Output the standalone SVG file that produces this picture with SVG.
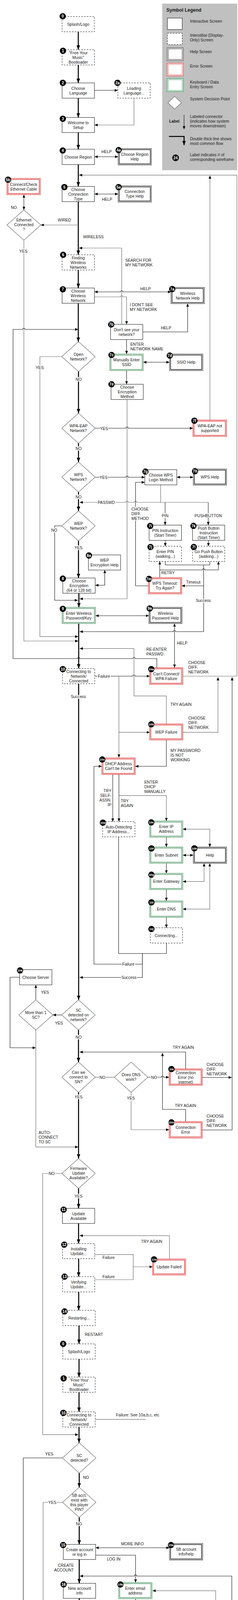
<svg xmlns="http://www.w3.org/2000/svg" width="608" height="5318" viewBox="0 0 608 5318">
<defs>
<style>
.t{font-family:"Liberation Sans",Arial,Helvetica,sans-serif;font-size:10.2px;fill:#1a1a1a;text-anchor:middle}
.s{text-anchor:start}
.e{text-anchor:end}
.b{font-weight:bold}
.hl{paint-order:stroke;stroke:#fff;stroke-width:4px;stroke-linejoin:round}
.bx{fill:#fff;stroke:#111;stroke-width:1}
.dsh{fill:#fff;stroke:#111;stroke-width:1;stroke-dasharray:4 3}
.ho{fill:#fff;stroke:#111;stroke-width:1}
.hi{fill:none;stroke:#111;stroke-width:1.5}
.eo{fill:#fff;stroke:#d40000;stroke-width:1}
.ei{fill:none;stroke:#d40000;stroke-width:1.2}
.ko{fill:#fff;stroke:#1e7a3c;stroke-width:1}
.ki{fill:none;stroke:#1e7a3c;stroke-width:1.2}
.dia{fill:#fff;stroke:#222;stroke-width:1}
.bc{fill:#000}
.bt{font-family:"Liberation Sans",Arial,sans-serif;font-weight:bold;font-size:10px;fill:#fff;text-anchor:middle}
.b3{font-size:8px}
.th{fill:none;stroke:#000;stroke-width:2.6}
.k{fill:none;stroke:#111;stroke-width:1.1}
.g{fill:none;stroke:#6e6e6e;stroke-width:1.2}
</style>
<marker id="a" viewBox="0 0 8 7" refX="8" refY="3.5" markerWidth="8" markerHeight="7" markerUnits="userSpaceOnUse" orient="auto-start-reverse"><path d="M0,0 L8,3.5 L0,7 z" fill="#000"/></marker>
<marker id="A" viewBox="0 0 11 9" refX="11" refY="4.5" markerWidth="11" markerHeight="9" markerUnits="userSpaceOnUse" orient="auto"><path d="M0,0 L11,4.5 L0,9 z" fill="#000"/></marker>
</defs>
<rect width="608" height="5318" fill="#fff"/>

<g id="legend">
<rect x="414.4" y="9.3" width="191.6" height="426.4" fill="#c0c0c0"/>
<text class="t s b" x="425" y="30" style="font-size:12px">Symbol Legend</text>
<rect class="bx" x="427.7" y="46.3" width="37.8" height="29.4"/>
<text class="t s" x="485.2" y="57.7">Interactive Screen</text>
<rect class="dsh" x="427.7" y="85" width="37.8" height="29.3"/>
<text class="t s" x="485.2" y="94">Interstitial (Display-</text>
<text class="t s" x="485.2" y="106">Only) Screen</text>
<rect x="427" y="122.3" width="41.3" height="32.7" fill="#fff" stroke="#555" stroke-width="1.3"/>
<rect x="429.8" y="125.1" width="35.7" height="27.1" fill="none" stroke="#777" stroke-width="1.6"/>
<text class="t s" x="485.2" y="136">Help Screen</text>
<rect x="427" y="161.7" width="41.3" height="32.6" fill="#fff" stroke="#e34b4b" stroke-width="1.3"/>
<rect x="429.8" y="164.5" width="35.7" height="27" fill="none" stroke="#f08080" stroke-width="1.4"/>
<text class="t s" x="485.2" y="173">Error Screen</text>
<rect x="427" y="201.3" width="41.3" height="33" fill="#fff" stroke="#3c9a5f" stroke-width="1.3"/>
<rect x="429.8" y="204.1" width="35.7" height="27.4" fill="none" stroke="#6cbf8a" stroke-width="1.4"/>
<text class="t s" x="485.2" y="214">Keyboard / Data</text>
<text class="t s" x="485.2" y="226">Entry Screen</text>
<polygon class="dia" points="446.2,246.7 463.5,263 446.2,279.3 428.9,263"/>
<text class="t s" x="485.2" y="257">System Decision Point</text>
<text class="t b" x="445.4" y="314">Label</text>
<line class="k" x1="470.2" y1="294" x2="470.2" y2="331" marker-end="url(#a)"/>
<text class="t s" x="485.2" y="302">Labeled connector</text>
<text class="t s" x="485.2" y="314">(indicates how system</text>
<text class="t s" x="485.2" y="326">moves downstream)</text>
<path class="th" d="M431.7,349.3 H470.2 V371.7" marker-end="url(#A)"/>
<text class="t s" x="485.2" y="359">Double thick line shows</text>
<text class="t s" x="485.2" y="371">most common flow</text>
<circle class="bc" cx="448.6" cy="404" r="8.5"/>
<text class="bt" x="448.6" y="407.5">24</text>
<text class="t s" x="485.2" y="400">Label indicates # of</text>
<text class="t s" x="485.2" y="412">corresponding wireframe</text>
</g>

<g id="connectors">
<path class="th" d="M200,81.3 V127.3" marker-end="url(#A)"/>
<path class="th" d="M200,166.3 V212.3" marker-end="url(#A)"/>
<path class="th" d="M200,251.3 V300.7" marker-end="url(#A)"/>
<path class="th" d="M200,339.3 V382" marker-end="url(#A)"/>
<path class="th" d="M200,421.3 V477.3" marker-end="url(#A)"/>
<path class="th" d="M200,516.3 V652.3" marker-end="url(#A)"/>
<path class="th" d="M200,691.3 V737.3" marker-end="url(#A)"/>
<path class="th" d="M200,776.3 V874.7" marker-end="url(#A)"/>
<path class="th" d="M200.5,951.3 V1057.8" marker-end="url(#A)"/>
<path class="th" d="M200.5,1134.8 V1182.8" marker-end="url(#A)"/>
<path class="th" d="M200.5,1259.8 V1307.8" marker-end="url(#A)"/>
<path class="th" d="M200.5,1384.8 V1479.7" marker-end="url(#A)"/>
<path class="th" d="M201.5,1518.7 V1554.7" marker-end="url(#A)"/>
<path class="th" d="M201,1596.3 V1711.3" marker-end="url(#A)"/>
<path class="th" d="M200.9,1750.3 V2559.6" marker-end="url(#A)"/>
<path class="th" d="M200.5,2637 V2719" marker-end="url(#A)"/>
<path class="th" d="M200.7,2796.4 V2965.7" marker-end="url(#A)"/>
<path class="th" d="M200.7,3042.3 V3093.3" marker-end="url(#A)"/>
<path class="th" d="M200.7,3132 V3183.7" marker-end="url(#A)"/>
<path class="th" d="M200.9,3222.3 V3268.3" marker-end="url(#A)"/>
<path class="th" d="M201,3307.3 V3354.3" marker-end="url(#A)"/>
<path class="th" d="M201.9,3393.7 V3440.3" marker-end="url(#A)"/>
<path class="th" d="M201.9,3479.3 V3525.3" marker-end="url(#A)"/>
<path class="th" d="M201.9,3564.3 V3614.3" marker-end="url(#A)"/>
<path class="th" d="M201.9,3653.3 V3693.6" marker-end="url(#A)"/>
<path class="th" d="M202.4,3771 V3807.5" marker-end="url(#A)"/>
<path class="th" d="M202.4,3884.5 V3953.7" marker-end="url(#A)"/>
<path class="th" d="M202.4,3992.3 V4053.3" marker-end="url(#A)"/>
<path class="th" d="M202.4,4091.7 V4133.3" marker-end="url(#A)"/>
<path class="th" d="M202.4,4175.3 V4417" marker-end="url(#A)"/>
<path class="th" d="M202.4,4494.4 V4591.7" marker-end="url(#A)"/>
<path class="th" d="M202.4,4669.7 V4711.7" marker-end="url(#A)"/>
<path class="th" d="M202.4,4753.3 V4802.3" marker-end="url(#A)"/>
<path class="th" d="M202.4,4841.3 V4884.3" marker-end="url(#A)"/>
<path class="th" d="M202.4,4923.3 V4965.3" marker-end="url(#A)"/>
<path class="th" d="M202.4,5004.3 V5033.3" marker-end="url(#A)"/>
<path class="th" d="M202.4,5072.3 V5101.3" marker-end="url(#A)"/>
<path class="th" d="M202.4,5140.3 V5169.3" marker-end="url(#A)"/>
<path class="th" d="M202.4,5208.3 V5268.3" marker-end="url(#A)"/>

<path class="k" d="M241.2,231.3 H301" marker-end="url(#a)"/>
<path class="g" d="M342.3,251.3 V320 H241.5" marker-end="url(#a)"/>
<path class="k" d="M241.5,401.3 H301.8" marker-start="url(#a)" marker-end="url(#a)"/>
<path class="g" d="M467.1,1731 H605.2 V448.3 H202" marker-end="url(#a)"/>
<path class="k" d="M241.5,496.7 H301.8" marker-start="url(#a)" marker-end="url(#a)"/>
<path class="k" d="M61,498.3 V537.3" marker-start="url(#a)" marker-end="url(#a)"/>
<path class="g" d="M200,576 H104.3" marker-end="url(#a)"/>
<path class="g" d="M61,614.7 V1641 H200" marker-end="url(#a)"/>
<path class="g" d="M536.3,1075.3 V449.5" marker-end="url(#a)"/>
<path class="g" d="M310.9,830.3 V635 H202" marker-end="url(#a)"/>
<path class="k" d="M241.5,747.3 H307.9 a3,3 0 0 1 6,0 H436.8" marker-start="url(#a)" marker-end="url(#a)"/>
<path class="g" d="M241.2,760 H307.9 a3,3 0 0 1 6,0 H323.4 V830.3" marker-end="url(#a)"/>
<path class="k" d="M364.8,849.7 H479.3 V777.3" marker-end="url(#a)"/>
<path class="k" d="M323.4,869.3 V906.3" marker-end="url(#a)"/>
<path class="k" d="M400.6,1709.3 V1686 H345.3 a3,3 0 0 0 -6,0 H204 a3,3 0 0 0 -6,0 H33.4 V843.3 H58 a3,3 0 0 1 6,0 H200" marker-end="url(#a)"/>
<path class="g" d="M157.8,913 H101.9 V1629.7 H200" marker-end="url(#a)"/>
<path class="k" d="M366,927.3 H432.9" marker-start="url(#a)" marker-end="url(#a)"/>
<path class="k" d="M323.4,948.7 V983.7" marker-end="url(#a)"/>
<path class="g" d="M324.6,1022.7 V1533 H203.5" marker-end="url(#a)"/>
<path class="k" d="M243.2,1096.3 H321.6 a3,3 0 0 1 6,0 H493" marker-end="url(#a)"/>
<path class="k" d="M243.2,1221.7 H321.6 a3,3 0 0 1 6,0 H369.9" marker-end="url(#a)"/>
<path class="k" d="M451.7,1221.7 H493.8" marker-start="url(#a)" marker-end="url(#a)"/>
<path class="g" d="M410.4,1241.3 V1286"/>
<path class="g" d="M532,1286 H349.3 a3,3 0 0 0 -6,0 H327.6 a3,3 0 0 0 -6,0 H203.5" marker-end="url(#a)"/>
<path class="k" d="M421.8,1286 V1344.3" marker-end="url(#a)"/>
<path class="k" d="M532,1286 V1344.3" marker-end="url(#a)"/>
<path class="k" d="M378.9,1499.7 H346.3 V1234.7 H369.9" marker-end="url(#a)"/>
<path class="k" d="M422.2,1383.3 V1398.3" marker-end="url(#a)"/>
<path class="k" d="M532.4,1383.3 V1398.3" marker-end="url(#a)"/>
<path class="k" d="M422.2,1437.3 V1446.3 H535.9 V1437.3"/>
<path class="k" d="M520.2,1446.3 V1617 H448.8 a3,3 0 0 0 -6,0 H203.5" marker-end="url(#a)"/>
<path class="k" d="M520.2,1499.7 H464.3" marker-end="url(#a)"/>
<path class="k" d="M408.1,1478.7 V1437.3" marker-end="url(#a)"/>
<path class="k" d="M408.1,1459 H517.2 a3,3 0 0 1 6,0 H558 V1437.3" marker-end="url(#a)"/>
<path class="k" d="M243.5,1498.3 H267.6 V1459.3" marker-start="url(#a)" marker-end="url(#a)"/>
<path class="k" d="M157.8,1346.3 H139.7 V1536.7 H199" marker-end="url(#a)"/>
<path class="k" d="M244,1576.3 H380.5" marker-start="url(#a)" marker-end="url(#a)"/>
<path class="k" d="M445.8,1596.3 V1709.3" marker-start="url(#a)" marker-end="url(#a)"/>
<path class="k" d="M242,1731 H339.3 a3,3 0 0 1 6,0 H382.5" marker-end="url(#a)"/>
<path class="g" d="M303.8,1731 V1939.3" marker-end="url(#a)"/>
<path class="g" d="M303.8,1874.7 H382.5" marker-end="url(#a)"/>
<path class="g" d="M425,1853.3 V1781.7 H342.3 V1660.3 H203.5" marker-end="url(#a)"/>
<path class="g" d="M467.1,1874.7 H556.8 V1733.7" marker-end="url(#a)"/>
<path class="k" d="M425,1894.3 V1961.7 H345.5" marker-end="url(#a)"/>
<path class="k" d="M363.6,2441 V2468.3 H240 V1961.7 H260.1" marker-end="url(#a)"/>
<path class="k" d="M288,1982.7 V2103.3" marker-end="url(#a)"/>
<path class="k" d="M303.8,1982.7 V2103.3" marker-end="url(#a)"/>
<path class="g" d="M303.8,2036.7 H425 V2101.7" marker-end="url(#a)"/>
<path class="k" d="M425,2143.3 V2168.3" marker-end="url(#a)"/>
<path class="k" d="M425,2210 V2235.7" marker-end="url(#a)"/>
<path class="k" d="M425,2277.3 V2306.3" marker-end="url(#a)"/>
<path class="k" d="M425,2348.3 V2375" marker-end="url(#a)"/>
<path class="g" d="M467.1,2122.7 H535.9 V2168.3" marker-start="url(#a)" marker-end="url(#a)"/>
<path class="k" d="M467.1,2189.3 H493.8" marker-start="url(#a)" marker-end="url(#a)"/>
<path class="g" d="M521.4,2210.3 V2256.7 H467.1" marker-start="url(#a)" marker-end="url(#a)"/>
<path class="g" d="M535.9,2210.3 V2327.3 H467.1" marker-start="url(#a)" marker-end="url(#a)"/>
<path class="k" d="M303,2142.3 V2441 H425.4 V2414.3"/>
<path class="k" d="M363.6,2441 V2502.3 H203.5" marker-end="url(#a)"/>
<path class="k" d="M157.8,2598.3 H135" marker-end="url(#a)"/>
<path class="k" d="M91.5,2559.6 V2521.3" marker-end="url(#a)"/>
<path class="k" d="M50,2501.7 H25.6 V2682.3 H91.3" marker-end="url(#a)"/>
<path class="g" d="M91.5,2637 V2936.3 H200" marker-end="url(#a)"/>
<path class="g" d="M243.4,2757.7 H292"/>
<path class="k" d="M377.8,2757.7 H412.1 a3,3 0 0 1 6,0 H432.1" marker-end="url(#a)"/>
<path class="g" d="M334.9,2796.4 V2892 H432.1" marker-end="url(#a)"/>
<path class="k" d="M474.2,2736.3 V2693.3 H203.5" marker-end="url(#a)"/>
<path class="k" d="M474.2,2871.3 V2840 H415.1 V2695.5" marker-end="url(#a)"/>
<path class="k" d="M516.7,2758.3 H592" marker-end="url(#a)"/>
<path class="k" d="M516.7,2892.7 H593 V1733.7" marker-end="url(#a)"/>
<path class="g" d="M158,3004 H109 V3672.7 H200" marker-end="url(#a)"/>
<path class="g" d="M432.9,3223 V3163.3 H203.5" marker-end="url(#a)"/>
<path class="g" d="M242,3211.7 H340.4 V3276 H242"/>
<path class="g" d="M340.4,3243 H389.6" marker-end="url(#a)"/>
<path class="g" d="M243.2,3633.7 H371.9"/>
<path class="k" d="M159.7,3732.3 H59.4 V4906.6" marker-end="url(#a)"/>
<path class="g" d="M159.7,3846 H110.2 V5225.3 H201" marker-end="url(#a)"/>
<path class="k" d="M244.4,3962.3 H432.9" marker-start="url(#a)" marker-end="url(#a)"/>
<path class="k" d="M244.4,3981.3 H346.3 V4051.3" marker-end="url(#a)"/>
<path class="k" d="M517.8,4373.3 H592.2 V4034.7 H349.3 a3,3 0 0 0 -6,0 H204" marker-end="url(#a)"/>
<path class="g" d="M517.8,4360 H550.9 V4072.3 H389.6" marker-end="url(#a)"/>
<path class="k" d="M346.3,4092.7 V4133.3" marker-end="url(#a)"/>
<path class="k" d="M369.1,4611.3 V4567.7 H282.5 V4112.7 H346.3" marker-end="url(#a)"/>
<path class="g" d="M319.9,4611.3 V4591.7 H258.5 V4117.7 H204" marker-end="url(#a)"/>
<path class="k" d="M161.7,4822.3 H136.5 V4107 H200" marker-end="url(#a)"/>
<path class="k" d="M346.3,4175.3 V4218.7" marker-end="url(#a)"/>
<path class="g" d="M389.6,4257.7 H475.3 V4339.3" marker-end="url(#a)"/>
<path class="k" d="M346.3,4296.7 V4341" marker-end="url(#a)"/>
<path class="k" d="M387.2,4360.3 H410.4 V4903.3 H245.5" marker-end="url(#a)"/>
<path class="k" d="M245.1,4455.7 H255.5 a3,3 0 0 1 6,0 H279.5 a3,3 0 0 1 6,0 H303" marker-end="url(#a)"/>
<path class="g" d="M346.3,4436 V4406.7 H285.5 a3,3 0 0 0 -6,0 H260" marker-end="url(#a)"/>
<path class="k" d="M245.1,4630.7 H305.7" marker-end="url(#a)"/>
<path class="k" d="M102.3,4945 H107.2 a3,3 0 0 1 6,0 H200" marker-end="url(#a)"/>
<path class="k" d="M59,4984 V5240 H200" marker-end="url(#a)"/>
<path class="k" d="M161.7,4985.3 H112" marker-end="url(#a)"/>

<text class="t" x="272.3" y="392">HELP</text>
<text class="t" x="273.5" y="514">HELP</text>
<text class="t" x="35.4" y="535">NO</text>
<text class="t" x="164.5" y="567">WIRED</text>
<text class="t" x="238.5" y="610">WIRELESS</text>
<text class="t hl" x="59.8" y="647">YES</text>
<text class="t s" x="319.9" y="670">SEARCH FOR</text>
<text class="t s" x="319.9" y="682">MY NETWORK</text>
<text class="t" x="371.9" y="743">HELP</text>
<text class="t s" x="331.4" y="783.6">I DON'T SEE</text>
<text class="t s" x="331.4" y="795.6">MY NETWORK</text>
<text class="t" x="424.2" y="843.3">HELP</text>
<text class="t s" x="332.9" y="884.9">ENTER</text>
<text class="t s" x="332.9" y="896.9">NETWORK NAME</text>
<text class="t hl" x="101.5" y="944.9">YES</text>
<text class="t hl" x="200.7" y="974.9">NO</text>
<text class="t hl" x="265.6" y="1100.9">YES</text>
<text class="t hl" x="200.7" y="1151.9">NO</text>
<text class="t hl" x="264.4" y="1225.9">YES</text>
<text class="t hl" x="200.7" y="1275.9">NO</text>
<text class="t hl" x="271.5" y="1289.9">PASSWD</text>
<text class="t hl" x="421.8" y="1323.9">PIN</text>
<text class="t hl" x="532" y="1323.9">PUSHBUTTON</text>
<text class="t s hl" x="335.7" y="1306.6">CHOOSE</text>
<text class="t s hl" x="335.7" y="1318.6">DIFF.</text>
<text class="t s hl" x="335.7" y="1330.6">METHOD</text>
<text class="t hl" x="138.5" y="1360.9">NO</text>
<text class="t hl" x="200.7" y="1405.9">YES</text>
<text class="t" x="429" y="1469.9">RETRY</text>
<text class="t" x="493.8" y="1494">Timeout</text>
<text class="t hl" x="519.4" y="1540.6">Success</text>
<text class="t" x="465.6" y="1649.6">HELP</text>
<text class="t s" x="373.9" y="1665.6">RE-ENTER</text>
<text class="t s" x="373.9" y="1677.9">PASSWD.</text>
<text class="t s" x="481" y="1699.6">CHOOSE</text>
<text class="t s" x="481" y="1711.6">DIFF.</text>
<text class="t s" x="481" y="1723.6">NETWORK</text>
<text class="t hl" x="265.6" y="1734.9">Failure</text>
<text class="t hl" x="200.3" y="1786.9">Success</text>
<text class="t" x="462.3" y="1806.9">TRY AGAIN</text>
<text class="t s" x="481" y="1841.9">CHOOSE</text>
<text class="t s" x="481" y="1853.9">DIFF.</text>
<text class="t s" x="481" y="1865.9">NETWORK</text>
<text class="t s" x="435.5" y="1924.9">MY PASSWORD</text>
<text class="t s" x="435.5" y="1936.9">IS NOT</text>
<text class="t s" x="435.5" y="1948.9">WORKING</text>
<text class="t s" x="368.8" y="2005.9">ENTER</text>
<text class="t s" x="368.8" y="2017.9">DHCP</text>
<text class="t s" x="368.8" y="2029.9">MANUALLY</text>
<text class="t e" x="284.5" y="2027.9">TRY</text>
<text class="t e" x="284.5" y="2039.9">SELF-</text>
<text class="t e" x="284.5" y="2051.9">ASSN.</text>
<text class="t e" x="284.5" y="2063.9">IP</text>
<text class="t s" x="308.5" y="2053.9">TRY</text>
<text class="t s" x="308.5" y="2065.9">AGAIN</text>
<text class="t hl" x="327.8" y="2471.9">Failure</text>
<text class="t hl" x="329.4" y="2505.9">Success</text>
<text class="t" x="114.9" y="2543.6">YES</text>
<text class="t" x="150.7" y="2622.6">YES</text>
<text class="t hl" x="200.7" y="2658.6">NO</text>
<text class="t" x="468.3" y="2684.9">TRY AGAIN</text>
<text class="t s" x="527.8" y="2728.6">CHOOSE</text>
<text class="t s" x="527.8" y="2740.6">DIFF.</text>
<text class="t s" x="527.8" y="2752.6">NETWORK</text>
<text class="t hl" x="261.7" y="2761.9">NO</text>
<text class="t hl" x="393.5" y="2761.9">NO</text>
<text class="t hl" x="200.7" y="2811.9">YES</text>
<text class="t hl" x="334.1" y="2814.6">YES</text>
<text class="t" x="473.8" y="2833.9">TRY AGAIN</text>
<text class="t s" x="527.8" y="2860.9">CHOOSE</text>
<text class="t s" x="527.8" y="2872.9">DIFF.</text>
<text class="t s" x="527.8" y="2884.9">NETWORK</text>
<text class="t s" x="98.4" y="2902.9">AUTO-</text>
<text class="t s" x="98.4" y="2914.9">CONNECT</text>
<text class="t s" x="98.4" y="2926.9">TO SC</text>
<text class="t hl" x="131.8" y="3007.6">NO</text>
<text class="t hl" x="200.7" y="3065.9">YES</text>
<text class="t" x="387.6" y="3181.9">TRY AGAIN</text>
<text class="t" x="277.4" y="3222.9">Failure</text>
<text class="t" x="277.4" y="3271.9">Failure</text>
<text class="t" x="240" y="3419.9">RESTART</text>
<text class="t s" x="296.3" y="3625.9">Failure: See 10a,b,c, etc</text>
<text class="t" x="125.9" y="3726.3">YES</text>
<text class="t" x="219.6" y="3785.6">NO</text>
<text class="t hl" x="133.8" y="3849.6">YES</text>
<text class="t hl" x="201.7" y="3904.9">NO</text>
<text class="t" x="338.4" y="3955.6">MORE INFO</text>
<text class="t" x="290.4" y="3994.9">LOG IN</text>
<text class="t e" x="188.5" y="4010.9">CREATE</text>
<text class="t e" x="188.5" y="4022.9">ACCOUNT</text>
<text class="t hl" x="409.2" y="4261.9">NO</text>
<text class="t hl" x="345.5" y="4314.6">YES</text>
<text class="t" x="532" y="4318.9">TRY</text>
<text class="t" x="526" y="4330.9">AGAIN</text>
<text class="t s" x="528.6" y="4389.6">CREATE</text>
<text class="t s" x="528.6" y="4401.6">NEW</text>
<text class="t s" x="528.6" y="4413.6">ACCOUNT</text>
<text class="t" x="362" y="4418.9">TRY</text>
<text class="t" x="368" y="4430.9">AGAIN</text>
<text class="t" x="244" y="4440.3">NO</text>
<text class="t hl" x="202.4" y="4526.6">YES</text>
<text class="t hl" x="257.7" y="4535.9">TRY</text>
<text class="t hl" x="257.7" y="4547.9">DIFF</text>
<text class="t hl" x="257.7" y="4559.9">EMAIL</text>
<text class="t hl" x="368.7" y="4595.9">LOG IN</text>
<text class="t hl" x="266.8" y="4634.9">YES</text>
<text class="t hl" x="136.2" y="4679.6">CHG</text>
<text class="t hl" x="136.2" y="4691.6">INFO</text>
<text class="t hl" x="202.4" y="4683.6">NO</text>
<text class="t" x="138.9" y="4939.9">NO</text>
<text class="t" x="38.6" y="4996.9">YES</text>
<text class="t" x="140" y="4996.9">SKIP</text>
</g>

<g id="n0"><rect class="dsh" x="158.6" y="42.3" width="82.6" height="39"/><circle class="bc" cx="160.2" cy="41.7" r="8"/><text class="bt" x="160.2" y="45.2">0</text><text class="t" x="199.9" y="65.9">Splash/Logo</text></g>
<g id="n1"><rect class="dsh" x="158.6" y="127.3" width="82.6" height="39"/><circle class="bc" cx="160.9" cy="130" r="8"/><text class="bt" x="160.9" y="133.5">1</text><text class="t" x="199.9" y="138.9">"Free Your</text><text class="t" x="199.9" y="150.9">Music"</text><text class="t" x="199.9" y="162.9">Bootloader</text></g>
<g id="n2"><rect class="bx" x="158.6" y="212.3" width="82.6" height="39"/><circle class="bc" cx="160.5" cy="212" r="8"/><text class="bt" x="160.5" y="215.5">2</text><text class="t" x="199.9" y="229.9">Choose</text><text class="t" x="199.9" y="241.9">Language</text></g>
<g id="n2a"><rect class="dsh" x="301" y="212.3" width="82.7" height="39"/><circle class="bc" cx="300.2" cy="212" r="8"/><text class="bt" x="300.2" y="215.5">2a</text><text class="t" x="342.3" y="229.9">Loading</text><text class="t" x="342.3" y="241.9">Language...</text></g>
<g id="n3"><rect class="bx" x="158.6" y="300.7" width="82.6" height="38.6"/><circle class="bc" cx="160.5" cy="304" r="8"/><text class="bt" x="160.5" y="307.5">3</text><text class="t" x="199.9" y="317.9">Welcome to</text><text class="t" x="199.9" y="329.9">Setup</text></g>
<g id="n4"><rect class="bx" x="158.6" y="382" width="82.6" height="39.3"/><circle class="bc" cx="160.2" cy="385.3" r="8"/><text class="bt" x="160.2" y="388.8">4</text><text class="t" x="199.9" y="405.9">Choose Region</text></g>
<g id="n4a"><rect class="ho" x="301.8" y="380.3" width="85" height="42"/><rect class="hi" x="304.6" y="383.1" width="79.4" height="36.4"/><circle class="bc" cx="303" cy="384.3" r="8"/><text class="bt" x="303" y="387.8">4a</text><text class="t" x="344.3" y="399.3">Choose Region</text><text class="t" x="344.3" y="411.3">Help</text></g>
<g id="n5"><rect class="bx" x="158.6" y="477.3" width="82.6" height="39"/><circle class="bc" cx="164.5" cy="479" r="8"/><text class="bt" x="164.5" y="482.5">5</text><text class="t" x="199.9" y="488.9">Choose</text><text class="t" x="199.9" y="500.9">Connection</text><text class="t" x="199.9" y="512.9">Type</text></g>
<g id="n5a"><rect class="ho" x="301.8" y="475.7" width="85" height="41.6"/><rect class="hi" x="304.6" y="478.5" width="79.4" height="36"/><circle class="bc" cx="303" cy="479" r="8"/><text class="bt" x="303" y="482.5">5a</text><text class="t" x="344.3" y="493.9">Connection</text><text class="t" x="344.3" y="505.9">Type Help</text></g>
<g id="n5b"><rect class="eo" x="17.7" y="456.7" width="85.4" height="41.6"/><rect class="ei" x="20.5" y="459.5" width="79.8" height="36"/><circle class="bc" cx="20.5" cy="460" r="8"/><text class="bt" x="20.5" y="463.5">5b</text><text class="t" x="60.4" y="475.9">Connect/Check</text><text class="t" x="60.4" y="487.9">Ethernet Cable</text></g>
<g id="d-eth"><polygon class="dia" points="61,537.3 104.3,576 61,614.7 17.7,576"/><text class="t" x="61" y="566.9">Ethernet</text><text class="t" x="61" y="578.9">Connected</text><text class="t" x="61" y="590.9">?</text></g>
<g id="n6"><rect class="dsh" x="158.6" y="652.3" width="82.6" height="39"/><circle class="bc" cx="161.3" cy="652.3" r="8"/><text class="bt" x="161.3" y="655.8">6</text><text class="t" x="199.9" y="663.9">Finding</text><text class="t" x="199.9" y="675.9">Wireless</text><text class="t" x="199.9" y="687.9">Networks</text></g>
<g id="n7"><rect class="bx" x="158.6" y="737.3" width="82.6" height="39"/><circle class="bc" cx="160.5" cy="740.7" r="8"/><text class="bt" x="160.5" y="744.2">7</text><text class="t" x="199.9" y="748.6">Choose</text><text class="t" x="199.9" y="760.6">Wireless</text><text class="t" x="199.9" y="772.6">Network</text></g>
<g id="n7a"><rect class="ho" x="436.8" y="735.7" width="85.4" height="41.6"/><rect class="hi" x="439.6" y="738.5" width="79.8" height="36"/><circle class="bc" cx="440" cy="740" r="8"/><text class="bt" x="440" y="743.5">7a</text><text class="t" x="479.5" y="754.9">Wireless</text><text class="t" x="479.5" y="766.9">Network Help</text></g>
<g id="n7b"><rect class="bx" x="282.5" y="830.3" width="82.3" height="39"/><circle class="bc" cx="284.1" cy="830.7" r="8"/><text class="bt" x="284.1" y="834.2">7b</text><text class="t" x="323.6" y="847.9">Don't see your</text><text class="t" x="323.6" y="859.9">network?</text></g>
<g id="d-open"><polygon class="dia" points="200.5,874.7 243.2,913 200.5,951.3 157.8,913"/><text class="t" x="200.5" y="910.9">Open</text><text class="t" x="200.5" y="922.9">Network?</text></g>
<g id="n7c"><rect class="ko" x="280.6" y="906.3" width="85.4" height="42.4"/><rect class="ki" x="283.4" y="909.1" width="79.8" height="36.8"/><circle class="bc" cx="284.9" cy="908.7" r="8"/><text class="bt" x="284.9" y="912.2">7c</text><text class="t" x="323.3" y="924.9">Manually Enter</text><text class="t" x="323.3" y="936.9">SSID</text></g>
<g id="n7d"><rect class="ho" x="432.9" y="906.3" width="85.3" height="42.4"/><rect class="hi" x="435.7" y="909.1" width="79.7" height="36.8"/><circle class="bc" cx="433.7" cy="910.3" r="8"/><text class="bt" x="433.7" y="913.8">7d</text><text class="t" x="475.5" y="930.9">SSID Help</text></g>
<g id="n7e"><rect class="bx" x="283.7" y="983.7" width="82.3" height="39"/><circle class="bc" cx="284.9" cy="983.7" r="8"/><text class="bt" x="284.9" y="987.2">7e</text><text class="t" x="324.8" y="994.9">Choose</text><text class="t" x="324.8" y="1006.9">Encryption</text><text class="t" x="324.8" y="1018.9">Method</text></g>
<g id="d-wpa"><polygon class="dia" points="200.5,1057.8 243.2,1096.3 200.5,1134.8 157.8,1096.3"/><text class="t" x="200.5" y="1093.6">WPA-EAP</text><text class="t" x="200.5" y="1105.6">Network?</text></g>
<g id="n7f"><rect class="eo" x="493" y="1075.3" width="85.8" height="42"/><rect class="ei" x="495.8" y="1078.1" width="80.2" height="36.4"/><circle class="bc" cx="496.6" cy="1077" r="8"/><text class="bt" x="496.6" y="1080.5">7f</text><text class="t" x="535.9" y="1093.9">WPA-EAP not</text><text class="t" x="535.9" y="1105.9">supported</text></g>
<g id="d-wps"><polygon class="dia" points="200.5,1182.8 243.2,1221.3 200.5,1259.8 157.8,1221.3"/><text class="t" x="200.5" y="1218.9">WPS</text><text class="t" x="200.5" y="1230.9">Network?</text></g>
<g id="n7g"><rect class="bx" x="369.9" y="1202.3" width="81.8" height="39"/><circle class="bc" cx="371.5" cy="1207.3" r="8"/><text class="bt" x="371.5" y="1210.8">7g</text><text class="t" x="410.8" y="1219.9">Choose WPS</text><text class="t" x="410.8" y="1231.9">Login Method</text></g>
<g id="n7h"><rect class="ho" x="493.8" y="1200.7" width="85" height="41.3"/><rect class="hi" x="496.6" y="1203.5" width="79.4" height="35.7"/><circle class="bc" cx="498.2" cy="1206.3" r="8"/><text class="bt" x="498.2" y="1209.8">7h</text><text class="t" x="536.3" y="1224.9">WPS Help</text></g>
<g id="d-wep"><polygon class="dia" points="200.5,1307.8 243.2,1346.3 200.5,1384.8 157.8,1346.3"/><text class="t" x="200.5" y="1343.9">WEP</text><text class="t" x="200.5" y="1355.9">Network?</text></g>
<g id="n7i"><rect class="bx" x="380.9" y="1344.3" width="82.6" height="39"/><circle class="bc" cx="383.7" cy="1346.3" r="8"/><text class="bt" x="383.7" y="1349.8">7i</text><text class="t" x="422.2" y="1362.3">PIN Instruction</text><text class="t" x="422.2" y="1374.3">(Start Timer)</text></g>
<g id="n7k"><rect class="bx" x="491.9" y="1344.3" width="82.2" height="39"/><circle class="bc" cx="494.2" cy="1346.3" r="8"/><text class="bt" x="494.2" y="1349.8">7k</text><text class="t" x="533" y="1355.9">Push Button</text><text class="t" x="533" y="1367.9">Instruction</text><text class="t" x="533" y="1379.9">(Start Timer)</text></g>
<g id="n7j"><rect class="dsh" x="380.9" y="1398.3" width="82.6" height="39"/><circle class="bc" cx="384.5" cy="1400.3" r="8"/><text class="bt" x="384.5" y="1403.8">7j</text><text class="t" x="422.2" y="1415.9">Enter PIN</text><text class="t" x="422.2" y="1427.9">(walking...)</text></g>
<g id="n7l"><rect class="dsh" x="491.9" y="1398.3" width="82.2" height="39"/><circle class="bc" cx="495" cy="1400.3" r="8"/><text class="bt" x="495" y="1403.8">7l</text><text class="t" x="533" y="1415.9">Go Push Button</text><text class="t" x="533" y="1427.9">(walking...)</text></g>
<g id="n7m"><rect class="eo" x="378.9" y="1478.7" width="85.4" height="41.6"/><rect class="ei" x="381.7" y="1481.5" width="79.8" height="36"/><circle class="bc" cx="380.5" cy="1482" r="8"/><text class="bt" x="380.5" y="1485.5">7m</text><text class="t" x="421.6" y="1496.9">WPS Timeout:</text><text class="t" x="421.6" y="1508.9">Try Again?</text></g>
<g id="n8a"><rect class="bx" x="225.9" y="1420.7" width="82.2" height="38.6"/><circle class="bc" cx="227.1" cy="1422" r="8"/><text class="bt" x="227.1" y="1425.5">8a</text><text class="t" x="267" y="1437.9">WEP</text><text class="t" x="267" y="1449.9">Encryption Help</text></g>
<g id="n8"><rect class="bx" x="160.5" y="1479.7" width="82.7" height="39"/><circle class="bc" cx="160.5" cy="1481.3" r="8"/><text class="bt" x="160.5" y="1484.8">8</text><text class="t" x="201.8" y="1490.9">Choose</text><text class="t" x="201.8" y="1502.9">Encryption</text><text class="t" x="201.8" y="1514.9">(64 or 128 bit)</text></g>
<g id="n9"><rect class="ko" x="158.6" y="1554.7" width="85.4" height="41.6"/><rect class="ki" x="161.4" y="1557.5" width="79.8" height="36"/><circle class="bc" cx="160.5" cy="1558.7" r="8"/><text class="bt" x="160.5" y="1562.2">9</text><text class="t" x="201.3" y="1573.9">Enter Wireless</text><text class="t" x="201.3" y="1585.9">Password/Key</text></g>
<g id="n9a"><rect class="ho" x="380.5" y="1554.7" width="84.6" height="41.6"/><rect class="hi" x="383.3" y="1557.5" width="79" height="36"/><circle class="bc" cx="382.5" cy="1557.7" r="8"/><text class="bt" x="382.5" y="1561.2">9a</text><text class="t" x="422.8" y="1573.9">Wireless</text><text class="t" x="422.8" y="1585.9">Password Help</text></g>
<g id="n10"><rect class="dsh" x="159.8" y="1711.3" width="82.2" height="39"/><circle class="bc" cx="160.5" cy="1713" r="8"/><text class="bt" x="160.5" y="1716.5">10</text><text class="t" x="200.9" y="1722.9">Connecting to</text><text class="t" x="200.9" y="1734.9">Network/</text><text class="t" x="200.9" y="1746.9">Connected</text></g>
<g id="n10a"><rect class="eo" x="382.5" y="1709.3" width="84.6" height="42.7"/><rect class="ei" x="385.3" y="1712.1" width="79" height="37.1"/><circle class="bc" cx="386.4" cy="1713" r="8"/><text class="bt b3" x="386.4" y="1715.9">10a</text><text class="t" x="424.8" y="1728.9">Can't Connect/</text><text class="t" x="424.8" y="1740.9">WPA Failure</text></g>
<g id="n10b"><rect class="eo" x="382.5" y="1853.3" width="84.6" height="41"/><rect class="ei" x="385.3" y="1856.1" width="79" height="35.4"/><circle class="bc" cx="386.4" cy="1854.3" r="8"/><text class="bt b3" x="386.4" y="1857.2">10b</text><text class="t" x="424.8" y="1878.3">WEP Failure</text></g>
<g id="n10c"><rect class="eo" x="260.1" y="1940.3" width="85.4" height="42.4"/><rect class="ei" x="262.9" y="1943.1" width="79.8" height="36.8"/><circle class="bc" cx="261.3" cy="1944.3" r="8"/><text class="bt b3" x="261.3" y="1947.2">10c</text><text class="t" x="302.8" y="1958.9">DHCP Address</text><text class="t" x="302.8" y="1970.9">Can't be Found</text></g>
<g id="n10d"><rect class="dsh" x="262.1" y="2103.3" width="82.6" height="39"/><circle class="bc" cx="262.9" cy="2106" r="8"/><text class="bt b3" x="262.9" y="2108.9">10d</text><text class="t" x="303.4" y="2120.9">Auto-Detecting</text><text class="t" x="303.4" y="2132.9">IP Address...</text></g>
<g id="n10e"><rect class="ko" x="382.5" y="2101.7" width="84.6" height="41.6"/><rect class="ki" x="385.3" y="2104.5" width="79" height="36"/><circle class="bc" cx="386.4" cy="2105.3" r="8"/><text class="bt b3" x="386.4" y="2108.2">10e</text><text class="t" x="424.8" y="2119.9">Enter IP</text><text class="t" x="424.8" y="2131.9">Address</text></g>
<g id="n10f"><rect class="ko" x="382.5" y="2168.3" width="84.6" height="41.7"/><rect class="ki" x="385.3" y="2171.1" width="79" height="36.1"/><circle class="bc" cx="386.8" cy="2172" r="8"/><text class="bt b3" x="386.8" y="2174.9">10f</text><text class="t" x="424.8" y="2192.9">Enter Subnet</text></g>
<g id="n10h"><rect class="ho" x="493.8" y="2168.3" width="85" height="42"/><rect class="hi" x="496.6" y="2171.1" width="79.4" height="36.4"/><circle class="bc" cx="496.6" cy="2171.7" r="8"/><text class="bt b3" x="496.6" y="2174.6">10h</text><text class="t" x="536.3" y="2192.9">Help</text></g>
<g id="n10g"><rect class="ko" x="382.5" y="2235.7" width="84.6" height="41.6"/><rect class="ki" x="385.3" y="2238.5" width="79" height="36"/><circle class="bc" cx="386.8" cy="2239.3" r="8"/><text class="bt b3" x="386.8" y="2242.2">10g</text><text class="t" x="424.8" y="2260.3">Enter Gateway</text></g>
<g id="n10i"><rect class="ko" x="382.5" y="2306.3" width="84.6" height="42"/><rect class="ki" x="385.3" y="2309.1" width="79" height="36.4"/><circle class="bc" cx="386.8" cy="2310" r="8"/><text class="bt b3" x="386.8" y="2312.9">10i</text><text class="t" x="424.8" y="2330.9">Enter DNS</text></g>
<g id="n10j"><rect class="dsh" x="384.1" y="2375" width="82.2" height="39.3"/><circle class="bc" cx="386.8" cy="2378.3" r="8"/><text class="bt b3" x="386.8" y="2381.2">10j</text><text class="t" x="425.2" y="2398.9">Connecting...</text></g>
<g id="d-sc"><polygon class="dia" points="200.5,2559.6 243.2,2598.3 200.5,2637 157.8,2598.3"/><text class="t" x="200.5" y="2589.9">SC</text><text class="t" x="200.5" y="2601.9">detected on</text><text class="t" x="200.5" y="2613.9">network?</text></g>
<g id="d-more"><polygon class="dia" points="91.5,2559.6 135,2598.3 91.5,2637 48,2598.3"/><text class="t" x="91.5" y="2595.9">More than 1</text><text class="t" x="91.5" y="2607.9">SC?</text></g>
<g id="n10k"><rect class="bx" x="50" y="2482.3" width="82.6" height="39"/><circle class="bc" cx="51.2" cy="2484.3" r="8"/><text class="bt b3" x="51.2" y="2487.2">10k</text><text class="t" x="91.3" y="2505.9">Choose Server</text></g>
<g id="d-can"><polygon class="dia" points="200.7,2719 243.4,2757.7 200.7,2796.4 158,2757.7"/><text class="t" x="200.7" y="2748.9">Can we</text><text class="t" x="200.7" y="2760.9">connect to</text><text class="t" x="200.7" y="2772.9">SN?</text></g>
<g id="d-dns"><polygon class="dia" points="334.9,2719 377.8,2757.7 334.9,2796.4 292,2757.7"/><text class="t" x="334.9" y="2754.9">Does DNS</text><text class="t" x="334.9" y="2766.9">work?</text></g>
<g id="n10l"><rect class="eo" x="432.1" y="2736.3" width="84.6" height="42"/><rect class="ei" x="434.9" y="2739.1" width="79" height="36.4"/><circle class="bc" cx="438" cy="2736.7" r="8"/><text class="bt b3" x="438" y="2739.6">10l</text><text class="t" x="474.4" y="2749.9">Connection</text><text class="t" x="474.4" y="2761.9">Error (no</text><text class="t" x="474.4" y="2773.9">internet)</text></g>
<g id="n10m"><rect class="eo" x="432.1" y="2871.3" width="84.6" height="42"/><rect class="ei" x="434.9" y="2874.1" width="79" height="36.4"/><circle class="bc" cx="438" cy="2873.3" r="8"/><text class="bt b3" x="438" y="2876.2">10m</text><text class="t" x="474.4" y="2889.9">Connection</text><text class="t" x="474.4" y="2901.9">Error</text></g>
<g id="d-fw"><polygon class="dia" points="200.7,2965.7 243.4,3004 200.7,3042.3 158,3004"/><text class="t" x="200.7" y="2994.9">Firmware</text><text class="t" x="200.7" y="3006.9">Update</text><text class="t" x="200.7" y="3018.9">Available?</text></g>
<g id="n11"><rect class="bx" x="159.4" y="3093.3" width="82.6" height="38.7"/><circle class="bc" cx="162.5" cy="3096.7" r="8"/><text class="bt" x="162.5" y="3100.2">11</text><text class="t" x="200.7" y="3110.6">Update</text><text class="t" x="200.7" y="3122.6">Available</text></g>
<g id="n12"><rect class="dsh" x="159.8" y="3183.7" width="82.2" height="38.6"/><circle class="bc" cx="164.1" cy="3186.3" r="8"/><text class="bt" x="164.1" y="3189.8">12</text><text class="t" x="200.9" y="3201.3">Installing</text><text class="t" x="200.9" y="3213.3">Update...</text></g>
<g id="n12a"><rect class="eo" x="389.6" y="3223" width="84.6" height="41"/><rect class="ei" x="392.4" y="3225.8" width="79" height="35.4"/><circle class="bc" cx="393.5" cy="3224" r="8"/><text class="bt b3" x="393.5" y="3226.9">12a</text><text class="t" x="431.9" y="3246.9">Update Failed</text></g>
<g id="n13"><rect class="dsh" x="159.8" y="3268.3" width="82.2" height="39"/><circle class="bc" cx="164.9" cy="3268.3" r="8"/><text class="bt" x="164.9" y="3271.8">13</text><text class="t" x="200.9" y="3285.9">Verifying</text><text class="t" x="200.9" y="3297.9">Update...</text></g>
<g id="n14"><rect class="dsh" x="160.5" y="3354.3" width="82.7" height="39.4"/><circle class="bc" cx="164.9" cy="3357.3" r="8"/><text class="bt" x="164.9" y="3360.8">14</text><text class="t" x="201.9" y="3378.3">Restarting...</text></g>
<g id="n0-2"><rect class="dsh" x="160.5" y="3440.3" width="82.7" height="39"/><circle class="bc" cx="161.3" cy="3440.3" r="8"/><text class="bt" x="161.3" y="3443.8">0</text><text class="t" x="201.9" y="3464.3">Splash/Logo</text></g>
<g id="n1-2"><rect class="dsh" x="160.5" y="3525.3" width="82.7" height="39"/><circle class="bc" cx="162.5" cy="3528.7" r="8"/><text class="bt" x="162.5" y="3532.2">1</text><text class="t" x="201.9" y="3536.9">"Free Your</text><text class="t" x="201.9" y="3548.9">Music"</text><text class="t" x="201.9" y="3560.9">Bootloader</text></g>
<g id="n10-2"><rect class="dsh" x="160.5" y="3614.3" width="82.7" height="39"/><circle class="bc" cx="161.7" cy="3617" r="8"/><text class="bt" x="161.7" y="3620.5">10</text><text class="t" x="201.9" y="3625.9">Connecting to</text><text class="t" x="201.9" y="3637.9">Network/</text><text class="t" x="201.9" y="3649.9">Connected</text></g>
<g id="d-scd"><polygon class="dia" points="202.4,3693.6 245.1,3732.3 202.4,3771 159.7,3732.3"/><text class="t" x="202.4" y="3729.6">SC</text><text class="t" x="202.4" y="3741.6">detected?</text></g>
<g id="d-sb1"><polygon class="dia" points="202.4,3807.5 245.1,3846 202.4,3884.5 159.7,3846"/><text class="t" x="202.4" y="3831.9">SB acct.</text><text class="t" x="202.4" y="3843.9">exist with</text><text class="t" x="202.4" y="3855.9">this player</text><text class="t" x="202.4" y="3867.9">PIN?</text></g>
<g id="n15"><rect class="bx" x="161.7" y="3953.7" width="82.7" height="38.6"/><circle class="bc" cx="161.3" cy="3955.3" r="8"/><text class="bt" x="161.3" y="3958.8">15</text><text class="t" x="203" y="3970.9">Create account</text><text class="t" x="203" y="3982.9">or log in</text></g>
<g id="n15a"><rect class="ho" x="432.9" y="3951.3" width="84.9" height="42.4"/><rect class="hi" x="435.7" y="3954.1" width="79.3" height="36.8"/><circle class="bc" cx="436.8" cy="3955.3" r="8"/><text class="bt b3" x="436.8" y="3958.2">15a</text><text class="t" x="475.3" y="3969.9">SB account</text><text class="t" x="475.3" y="3981.9">info/help</text></g>
<g id="n16"><rect class="bx" x="161.7" y="4053.3" width="82.7" height="38.4"/><circle class="bc" cx="162.5" cy="4056" r="8"/><text class="bt" x="162.5" y="4059.5">16</text><text class="t" x="203" y="4069.9">New account</text><text class="t" x="203" y="4081.9">info</text></g>
<g id="n15b"><rect class="ko" x="303" y="4051.3" width="85.4" height="41.4"/><rect class="ki" x="305.8" y="4054.1" width="79.8" height="35.8"/><circle class="bc" cx="307.7" cy="4056.3" r="8"/><text class="bt b3" x="307.7" y="4059.2">15b</text><text class="t" x="345.5" y="4069.9">Enter email</text><text class="t" x="345.5" y="4081.9">address</text></g>
<g id="n17"><rect class="ko" x="159.8" y="4133.3" width="85.4" height="42"/><rect class="ki" x="162.6" y="4136.1" width="79.8" height="36.4"/><circle class="bc" cx="163.3" cy="4137" r="8"/><text class="bt" x="163.3" y="4140.5">17</text><text class="t" x="202.5" y="4152.9">Enter email</text><text class="t" x="202.5" y="4164.9">address</text></g>
<g id="n15c"><rect class="ko" x="303" y="4133.3" width="85.4" height="42"/><rect class="ki" x="305.8" y="4136.1" width="79.8" height="36.4"/><circle class="bc" cx="308.1" cy="4137" r="8"/><text class="bt b3" x="308.1" y="4139.9">15c</text><text class="t" x="345.5" y="4158.9">Enter password</text></g>
<g id="d-ep"><polygon class="dia" points="346.3,4218.7 389.6,4257.7 346.3,4296.7 303,4257.7"/><text class="t" x="346.3" y="4248.9">Email +</text><text class="t" x="346.3" y="4260.9">Passwd</text><text class="t" x="346.3" y="4272.9">Valid?</text></g>
<g id="n15d"><rect class="bx" x="305" y="4341" width="82.2" height="39.3"/><circle class="bc" cx="308.1" cy="4342.7" r="8"/><text class="bt b3" x="308.1" y="4345.6">15d</text><text class="t" x="346.1" y="4358.9">"Player Added"</text><text class="t" x="346.1" y="4370.9">Confirmation</text></g>
<g id="n15e"><rect class="eo" x="432.9" y="4339.3" width="84.9" height="42"/><rect class="ei" x="435.7" y="4342.1" width="79.3" height="36.4"/><circle class="bc" cx="436.8" cy="4343.3" r="8"/><text class="bt b3" x="436.8" y="4346.2">15e</text><text class="t" x="475.3" y="4351.9">Email/</text><text class="t" x="475.3" y="4363.9">Password</text><text class="t" x="475.3" y="4375.9">Invalid</text></g>
<g id="d-vef"><polygon class="dia" points="202.4,4417 245.1,4455.7 202.4,4494.4 159.7,4455.7"/><text class="t" x="202.4" y="4453.9">Valid Email</text><text class="t" x="202.4" y="4465.9">Format?</text></g>
<g id="n17a"><rect class="eo" x="303" y="4436" width="85.4" height="41.3"/><rect class="ei" x="305.8" y="4438.8" width="79.8" height="35.7"/><circle class="bc" cx="306.9" cy="4437.7" r="8"/><text class="bt b3" x="306.9" y="4440.6">17a</text><text class="t" x="345.5" y="4459.9">Email Invalid</text></g>
<g id="d-eis"><polygon class="dia" points="202.4,4591.7 245.1,4630.7 202.4,4669.7 159.7,4630.7"/><text class="t" x="202.4" y="4627.9">Email in</text><text class="t" x="202.4" y="4639.9">system?</text></g>
<g id="n17b"><rect class="bx" x="305.7" y="4611.3" width="82.7" height="39"/><circle class="bc" cx="306.9" cy="4612.3" r="8"/><text class="bt b3" x="306.9" y="4615.2">17b</text><text class="t" x="347" y="4622.9">Account with</text><text class="t" x="347" y="4634.9">email already</text><text class="t" x="347" y="4646.9">exists</text></g>
<g id="n18"><rect class="ko" x="159.8" y="4711.7" width="85.4" height="41.6"/><rect class="ki" x="162.6" y="4714.5" width="79.8" height="36"/><circle class="bc" cx="163.7" cy="4717.3" r="8"/><text class="bt" x="163.7" y="4720.8">18</text><text class="t" x="202.5" y="4730.9">Create a</text><text class="t" x="202.5" y="4742.9">password</text></g>
<g id="n19"><rect class="bx" x="161.7" y="4802.3" width="82.7" height="39"/><circle class="bc" cx="163.7" cy="4804" r="8"/><text class="bt" x="163.7" y="4807.5">19</text><text class="t" x="203" y="4813.9">Account</text><text class="t" x="203" y="4825.9">Creation</text><text class="t" x="203" y="4837.9">Confirmation</text></g>
<g id="n20"><rect class="bx" x="160.5" y="4884.3" width="82.7" height="39"/><circle class="bc" cx="164.1" cy="4887.3" r="8"/><text class="bt" x="164.1" y="4890.8">20</text><text class="t" x="201.9" y="4901.9">Account</text><text class="t" x="201.9" y="4913.9">Created</text></g>
<g id="d-sb2"><polygon class="dia" points="59,4906.6 102.3,4945.3 59,4984 15.7,4945.3"/><text class="t" x="59" y="4930.9">SB acct.</text><text class="t" x="59" y="4942.9">exist with</text><text class="t" x="59" y="4954.9">this player</text><text class="t" x="59" y="4966.9">PIN?</text></g>
<g id="n21"><rect class="bx" x="161.7" y="4965.3" width="82.7" height="39"/><circle class="bc" cx="162.5" cy="4966.7" r="8"/><text class="bt" x="162.5" y="4970.2">21</text><text class="t" x="203" y="4988.9">Slideshow Intro</text></g>
<g id="n-ss1"><rect class="bx" x="161.7" y="5033.3" width="82.7" height="39"/><text class="t" x="203" y="5050.9">Slideshow</text><text class="t" x="203" y="5062.9">Screen 1</text></g>
<g id="n-ss2"><rect class="bx" x="161.7" y="5101.3" width="82.7" height="39"/><text class="t" x="203" y="5118.9">Slideshow</text><text class="t" x="203" y="5130.9">Screen 2</text></g>
<g id="n-rest"><rect class="bx" x="161.7" y="5169.3" width="82.7" height="39"/><text class="t" x="203" y="5186.9">(... rest of</text><text class="t" x="203" y="5198.9">slides)</text></g>
<g id="n-home"><rect class="bx" x="161.7" y="5268.3" width="82.7" height="39"/><text class="t" x="203" y="5291.9">HOME</text></g>
</svg>
